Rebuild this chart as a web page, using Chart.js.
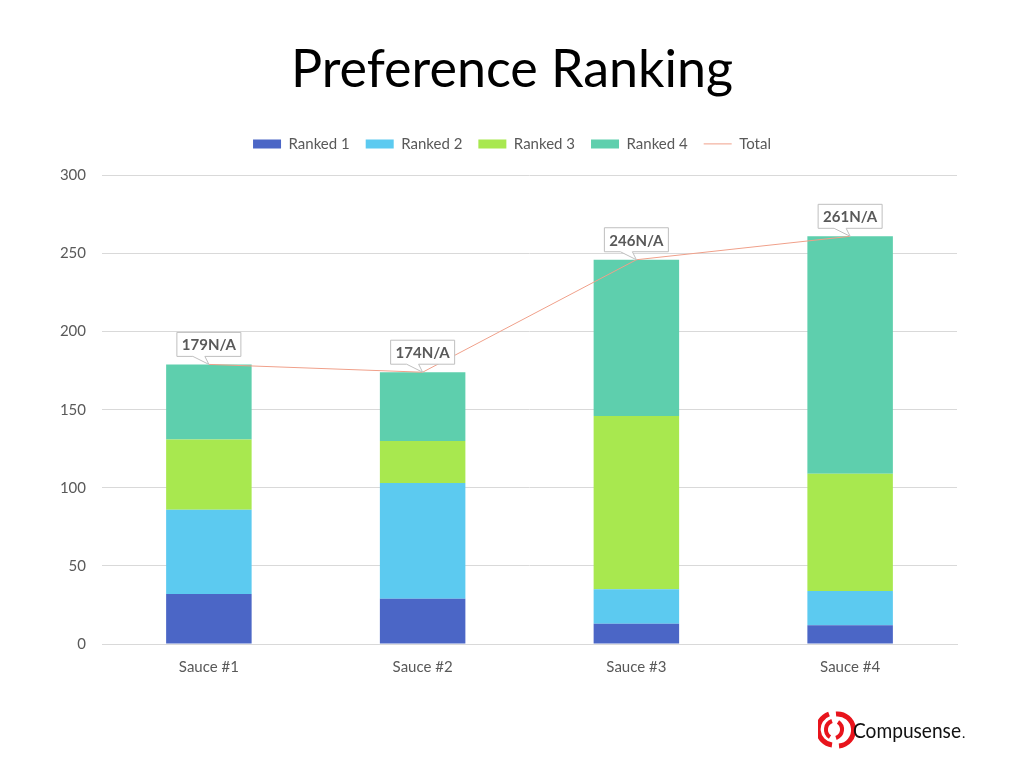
<!DOCTYPE html>
<html>
<head>
<meta charset="utf-8">
<script src="https://cdn.jsdelivr.net/npm/chart.js@4/dist/chart.umd.min.js"></script>
<style>
    html, body { margin: 0; padding: 0; background: #fff; }
    #wrap { position: relative; width: 1024px; height: 768px; }
    #logo { position: absolute; left: 818px; top: 710px; }
</style>
</head>
<body>
<div id="wrap">
    <canvas id="chart" width="1024" height="768"></canvas>
    <svg id="logo" width="160" height="40" viewBox="0 0 160 40">
        <g fill="none" stroke="#e8141c">
            <path d="M 11 4 A 16 16 0 0 0 14 35" stroke-width="5"/>
            <path d="M 21 36 A 16 16 0 0 0 18 4" stroke-width="5"/>
            <path d="M 14 11 A 9 9 0 0 0 12 27" stroke-width="4"/>
            <path d="M 18 28 A 9 9 0 0 0 20 12" stroke-width="4"/>
        </g>
        <text x="35" y="28" font-family="Lato, sans-serif" font-size="21" fill="#111" textLength="108" lengthAdjust="spacingAndGlyphs">Compusense</text>
        <text x="144" y="28" font-family="Lato, sans-serif" font-size="14" fill="#111">.</text>
    </svg>
</div>
<script>
const categories = ['Sauce #1', 'Sauce #2', 'Sauce #3', 'Sauce #4'];
const ranked1 = [32, 29, 13, 12];
const ranked2 = [54, 74, 22, 22];
const ranked3 = [45, 27, 111, 75];
const ranked4 = [48, 44, 100, 152];
const totals = [179, 174, 246, 261];
const yTicks = [0, 50, 100, 150, 200, 250, 300];

const COLORS = {
    r1: '#4b66c6',
    r2: '#5ccaf0',
    r3: '#a8e84f',
    r4: '#5ecfad',
    total: '#f0a08a'
};
const FONT = 'Lato, "Open Sans", sans-serif';
const GREY = '#595959';

function barSet(label, data, color) {
    return {
        type: 'bar',
        label,
        data,
        backgroundColor: color,
        borderWidth: 0,
        barPercentage: 0.4,
        categoryPercentage: 1,
        stack: 's',
        order: 2
    };
}

// callout boxes above the total points
const calloutPlugin = {
    id: 'callouts',
    afterDatasetsDraw(chart) {
        const meta = chart.getDatasetMeta(4);
        const ctx = chart.ctx;
        ctx.save();
        ctx.font = 'bold 15px ' + FONT;
        meta.data.forEach((pt, i) => {
            const text = totals[i] + 'N/A';
            const w = 64, h = 24;
            const x0 = pt.x - w / 2;
            const y1 = pt.y - 8;
            const y0 = y1 - h;
            ctx.beginPath();
            ctx.moveTo(x0, y0);
            ctx.lineTo(x0 + w, y0);
            ctx.lineTo(x0 + w, y1);
            ctx.lineTo(pt.x - 4, y1);
            ctx.lineTo(pt.x, pt.y);
            ctx.lineTo(pt.x - 16, y1);
            ctx.lineTo(x0, y1);
            ctx.closePath();
            ctx.fillStyle = '#fff';
            ctx.fill();
            ctx.strokeStyle = '#bfbfbf';
            ctx.lineWidth = 1;
            ctx.stroke();
            ctx.fillStyle = GREY;
            ctx.textAlign = 'center';
            ctx.textBaseline = 'middle';
            ctx.fillText(text, pt.x, y0 + h / 2 + 1);
        });
        ctx.restore();
    }
};

// more room under the legend
const legendGap = {
    id: 'legendGap',
    beforeInit(chart) {
        const fit = chart.legend.fit;
        chart.legend.fit = function () {
            fit.call(this);
            this.height += 14;
        };
    }
};

new Chart(document.getElementById('chart'), {
    data: {
        labels: categories,
        datasets: [
            barSet('Ranked 1', ranked1, COLORS.r1),
            barSet('Ranked 2', ranked2, COLORS.r2),
            barSet('Ranked 3', ranked3, COLORS.r3),
            barSet('Ranked 4', ranked4, COLORS.r4),
            {
                type: 'line',
                label: 'Total',
                data: totals,
                borderColor: COLORS.total,
                borderWidth: 1,
                pointRadius: 0,
                fill: false,
                order: 1
            }
        ]
    },
    options: {
        responsive: false,
        animation: false,
        layout: { padding: { left: 30, right: 30, top: 39, bottom: 86 } },
        plugins: {
            title: {
                display: true,
                text: 'Preference Ranking',
                color: '#000',
                font: { family: FONT, size: 52, weight: 'normal' },
                padding: { top: 0, bottom: 19 }
            },
            legend: {
                position: 'top',
                labels: {
                    color: GREY,
                    font: { family: FONT, size: 15 },
                    usePointStyle: true,
                    pointStyleWidth: 28,
                    boxHeight: 9,
                    padding: 16,
                    generateLabels(chart) {
                        return chart.data.datasets.map((ds, i) => ({
                            text: ds.label,
                            fillStyle: ds.type === 'line' ? COLORS.total : ds.backgroundColor,
                            strokeStyle: ds.type === 'line' ? COLORS.total : ds.backgroundColor,
                            lineWidth: ds.type === 'line' ? 1 : 0,
                            pointStyle: ds.type === 'line' ? 'line' : 'rect',
                            fontColor: GREY,
                            datasetIndex: i
                        }));
                    }
                }
            },
            tooltip: { enabled: false }
        },
        scales: {
            x: {
                stacked: true,
                grid: { display: false },
                border: { color: '#d9d9d9' },
                ticks: { color: GREY, font: { family: FONT, size: 15 }, padding: 6 }
            },
            y: {
                stacked: true,
                min: 0,
                max: 300,
                afterBuildTicks(scale) {
                    scale.ticks = yTicks.map(v => ({ value: v }));
                },
                afterFit(scale) { scale.width = 72; },
                grid: { color: '#d9d9d9', drawTicks: false },
                border: { display: false },
                ticks: { color: GREY, font: { family: FONT, size: 15 }, padding: 16 }
            },
            // empty right axis, only keeps the plot symmetric
            yRight: {
                position: 'right',
                min: 0,
                max: 300,
                afterFit(scale) { scale.width = 37; },
                grid: { display: false },
                border: { display: false },
                ticks: { display: false }
            }
        }
    },
    plugins: [calloutPlugin, legendGap]
});
</script>
</body>
</html>
